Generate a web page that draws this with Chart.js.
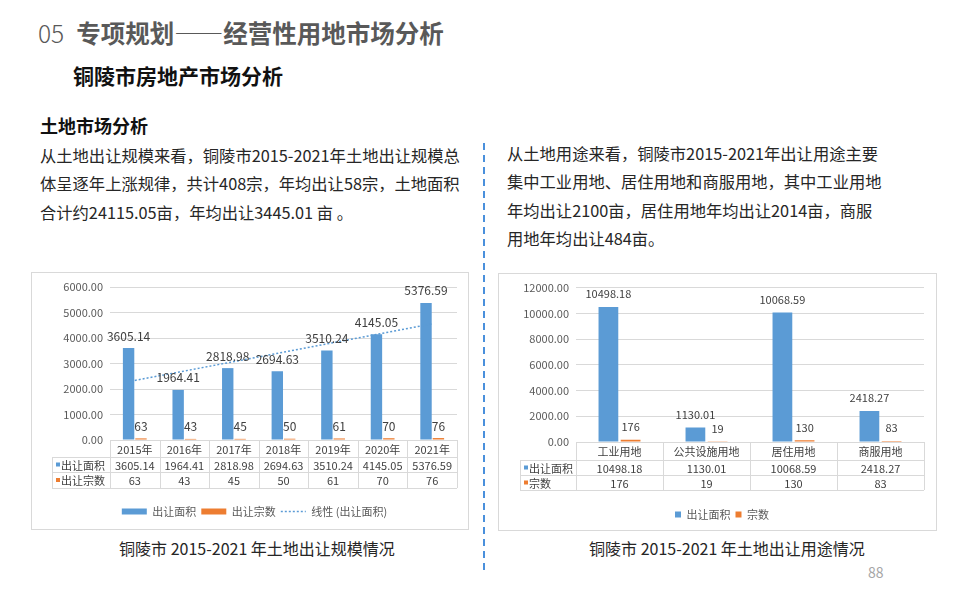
<!DOCTYPE html>
<html lang="zh-CN">
<head>
<meta charset="utf-8">
<title>铜陵市房地产市场分析</title>
<script src="https://cdn.jsdelivr.net/npm/chart.js@4.4.1/dist/chart.umd.min.js"></script>
<style>
  html, body { margin: 0; padding: 0; background: #fff; }
  body { width: 960px; height: 600px; position: relative; overflow: hidden;
         font-family: "Noto Sans CJK SC", "Noto Sans", sans-serif; color: #262626; }
  .abs { position: absolute; white-space: nowrap; }
  .title { left: 38px; top: 17px; font-size: 24.5px; line-height: 32px; color: #595959; }
  .title .num { font-weight: 300; margin-right: 12px; }
  .title .txt { font-weight: 700; }
  .sub { left: 73px; top: 61px; font-size: 21px; line-height: 28px; font-weight: 700; color: #111; }
  .head { left: 40px; top: 112px; font-size: 18px; line-height: 26px; font-weight: 700; color: #111; }
  .para { font-size: 16.3px; line-height: 28.4px; color: #262626; }
  .divider { left: 483px; top: 143px; width: 2px; height: 430px;
             background: repeating-linear-gradient(to bottom, #4a90dc 0 7px, transparent 7px 12px); }
  .box { position: absolute; border: 1px solid #d9d9d9; background: #fff; }
  .box canvas { display: block; }
  .caption { font-size: 16px; line-height: 22px; color: #262626; width: 320px; text-align: center; top: 537px; }
  .page { left: 868px; top: 562px; font-size: 14px; line-height: 20px; color: #a6a6a6; }
</style>
</head>
<body>
<div class="abs title"><span class="num">05</span><span class="txt">专项规划——经营性用地市场分析</span></div>
<div class="abs sub">铜陵市房地产市场分析</div>
<div class="abs head">土地市场分析</div>
<div class="abs para" style="left:40px; top:141px;">从土地出让规模来看，铜陵市2015-2021年土地出让规模总<br>体呈逐年上涨规律，共计408宗，年均出让58宗，土地面积<br>合计约24115.05亩，年均出让3445.01 亩 。</div>
<div class="abs para" style="left:507px; top:139px;">从土地用途来看，铜陵市2015-2021年出让用途主要<br>集中工业用地、居住用地和商服用地，其中工业用地<br>年均出让2100亩，居住用地年均出让2014亩，商服<br>用地年均出让484亩。</div>
<div class="abs divider"></div>

<div class="box" style="left:31px; top:272px;"><canvas id="scaleChart" width="436" height="256"></canvas></div>
<div class="box" style="left:498px; top:273px;"><canvas id="useChart" width="437" height="256"></canvas></div>

<div class="abs caption" style="left:97px;">铜陵市 2015-2021 年土地出让规模情况</div>
<div class="abs caption" style="left:567px;">铜陵市 2015-2021 年土地出让用途情况</div>
<div class="abs page">88</div>

<script>
// data
const years = ['2015年', '2016年', '2017年', '2018年', '2019年', '2020年', '2021年'];
const areaByYear = [3605.14, 1964.41, 2818.98, 2694.63, 3510.24, 4145.05, 5376.59];
const countByYear = [63, 43, 45, 50, 61, 70, 76];

const landUses = ['工业用地', '公共设施用地', '居住用地', '商服用地'];
const areaByUse = [10498.18, 1130.01, 10068.59, 2418.27];
const countByUse = [176, 19, 130, 83];

const yearAxisMax = 6000, yearAxisStep = 1000;
const useAxisMax = 12000, useAxisStep = 2000;

const BLUE = '#5b9bd5';
const ORANGE = '#ed7d31';
const GRID = '#d9d9d9';
const TEXT = '#595959';

// Excel style linear trendline: least squares fit over the category index
function linearTrend(values) {
  const n = values.length;
  const mx = (n - 1) / 2;
  const my = values.reduce((a, b) => a + b, 0) / n;
  let sxy = 0, sxx = 0;
  values.forEach((v, i) => { sxy += (i - mx) * (v - my); sxx += (i - mx) * (i - mx); });
  const slope = sxy / sxx;
  return values.map((v, i) => my + slope * (i - mx));
}

const fmt = v => Number.isInteger(v) ? String(v) : v.toFixed(2);

Chart.defaults.font.family = '"Noto Sans CJK SC", "Noto Sans", sans-serif';
Chart.defaults.font.size = 11;
Chart.defaults.color = TEXT;
Chart.defaults.animation = false;

// value labels above each bar
const barValues = {
  id: 'barValues',
  afterDatasetsDraw(chart, args, opts) {
    const { ctx } = chart;
    ctx.save();
    ctx.font = opts.size + 'px ' + Chart.defaults.font.family;
    ctx.fillStyle = opts.color;
    ctx.textAlign = 'center';
    ctx.textBaseline = 'middle';
    chart.data.datasets.forEach((ds, di) => {
      if (ds.type === 'line') return;
      chart.getDatasetMeta(di).data.forEach((bar, i) => {
        ctx.fillText(fmt(ds.data[i]), bar.x, bar.y - opts.offset);
      });
    });
    ctx.restore();
  }
};

// excel-like data table drawn in the space of the category axis
const dataTable = {
  id: 'dataTable',
  afterDraw(chart, args, opts) {
    const { ctx, chartArea } = chart;
    const xs = chart.scales.x, ys = chart.scales.y;
    const n = chart.data.labels.length;
    const tLeft = ys.left, pLeft = chartArea.left, pRight = chartArea.right;
    const h = opts.rowHeights;
    const rows = [xs.top];
    h.forEach((v, i) => rows.push(rows[i] + v));
    const edges = [pLeft];
    for (let i = 1; i < n; i++) edges.push((xs.getPixelForValue(i - 1) + xs.getPixelForValue(i)) / 2);
    edges.push(pRight);
    const px = v => Math.round(v) + 0.5;

    ctx.save();
    ctx.strokeStyle = GRID;
    ctx.lineWidth = 1;
    ctx.beginPath();
    ctx.moveTo(pLeft, px(rows[0])); ctx.lineTo(pRight, px(rows[0]));
    for (let r = 1; r < rows.length; r++) { ctx.moveTo(tLeft, px(rows[r])); ctx.lineTo(pRight, px(rows[r])); }
    ctx.moveTo(px(tLeft), rows[1]); ctx.lineTo(px(tLeft), rows[rows.length - 1]);
    edges.forEach(e => { ctx.moveTo(px(e), rows[0]); ctx.lineTo(px(e), rows[rows.length - 1]); });
    ctx.stroke();

    ctx.font = '11px ' + Chart.defaults.font.family;
    ctx.textBaseline = 'middle';
    ctx.fillStyle = '#404040';
    ctx.textAlign = 'center';
    chart.data.labels.forEach((lab, i) => ctx.fillText(lab, xs.getPixelForValue(i), (rows[0] + rows[1]) / 2 + 1));

    opts.rows.forEach((row, r) => {
      const ds = chart.data.datasets[row.dataset];
      const cy = (rows[r + 1] + rows[r + 2]) / 2 + 1;
      ctx.fillStyle = ds.backgroundColor;
      ctx.fillRect(tLeft + 4, cy - 3, 4, 4);
      ctx.fillStyle = '#404040';
      ctx.textAlign = 'left';
      ctx.fillText(row.label, tLeft + 9, cy);
      ctx.textAlign = 'center';
      ds.data.forEach((v, i) => ctx.fillText(fmt(v), xs.getPixelForValue(i), cy));
    });
    ctx.restore();
  }
};

function valueAxis(max, step, width) {
  return {
    min: 0, max: max,
    grid: { color: GRID, drawTicks: false },
    border: { display: false },
    ticks: { stepSize: step, padding: 7, color: TEXT, font: { size: 11 }, callback: v => v.toFixed(2) },
    afterFit(scale) { scale.width = width; }
  };
}

// the category axis holds the data table plus the gap above the legend
function categoryAxis(height) {
  return {
    grid: { display: false },
    border: { display: false },
    ticks: { display: false },
    afterFit(scale) { scale.height = height; }
  };
}

// left: yearly land transfer
const yearRows = [17, 15, 16];
new Chart(document.getElementById('scaleChart'), {
  type: 'bar',
  data: {
    labels: years,
    datasets: [
      { label: '出让面积', data: areaByYear, backgroundColor: BLUE, order: 1,
        categoryPercentage: 0.5, barPercentage: 0.92 },
      { label: '出让宗数', data: countByYear, backgroundColor: ORANGE, order: 1,
        categoryPercentage: 0.5, barPercentage: 0.92 },
      { type: 'line', label: '线性 (出让面积)', data: linearTrend(areaByYear), order: 0,
        borderColor: BLUE, borderWidth: 1.5, borderDash: [2, 2], pointRadius: 0, fill: false, tension: 0 }
    ]
  },
  options: {
    responsive: false,
    layout: { padding: { left: 20, right: 11, top: 14, bottom: 2 } },
    scales: { x: categoryAxis(yearRows.reduce((a, b) => a + b, 0) + 13), y: valueAxis(yearAxisMax, yearAxisStep, 58) },
    plugins: {
      tooltip: { enabled: false },
      legend: {
        position: 'bottom',
        labels: {
          usePointStyle: true, pointStyleWidth: 25, boxHeight: 6, padding: 5, color: TEXT,
          font: { size: 11 },
          generateLabels: chart => chart.data.datasets.map((ds, i) => ({
            text: ds.label,
            datasetIndex: i,
            fillStyle: ds.type === 'line' ? 'rgba(0,0,0,0)' : ds.backgroundColor,
            strokeStyle: ds.type === 'line' ? ds.borderColor : ds.backgroundColor,
            lineWidth: ds.type === 'line' ? 1.5 : 0,
            lineDash: ds.type === 'line' ? [2, 2] : [],
            pointStyle: ds.type === 'line' ? 'line' : 'rect',
            fontColor: TEXT,
            hidden: false
          }))
        }
      },
      barValues: { color: '#404040', offset: 12, size: 12 },
      dataTable: {
        rowHeights: yearRows,
        rows: [{ label: '出让面积', dataset: 0 }, { label: '出让宗数', dataset: 1 }]
      }
    }
  },
  plugins: [barValues, dataTable]
});

// right: land transfer by use
const useRows = [18, 15, 15];
new Chart(document.getElementById('useChart'), {
  type: 'bar',
  data: {
    labels: landUses,
    datasets: [
      { label: '出让面积', data: areaByUse, backgroundColor: BLUE, categoryPercentage: 0.51, barPercentage: 0.89 },
      { label: '宗数', data: countByUse, backgroundColor: ORANGE, categoryPercentage: 0.51, barPercentage: 0.89 }
    ]
  },
  options: {
    responsive: false,
    layout: { padding: { left: 21, right: 12, top: 12, bottom: 0 } },
    scales: { x: categoryAxis(useRows.reduce((a, b) => a + b, 0) + 14), y: valueAxis(useAxisMax, useAxisStep, 56) },
    plugins: {
      tooltip: { enabled: false },
      legend: {
        position: 'bottom',
        labels: { boxWidth: 6, boxHeight: 6, padding: 5, color: TEXT, font: { size: 11 } }
      },
      barValues: { color: '#404040', offset: 13, size: 11 },
      dataTable: {
        rowHeights: useRows,
        rows: [{ label: '出让面积', dataset: 0 }, { label: '宗数', dataset: 1 }]
      }
    }
  },
  plugins: [barValues, dataTable]
});
</script>
</body>
</html>
